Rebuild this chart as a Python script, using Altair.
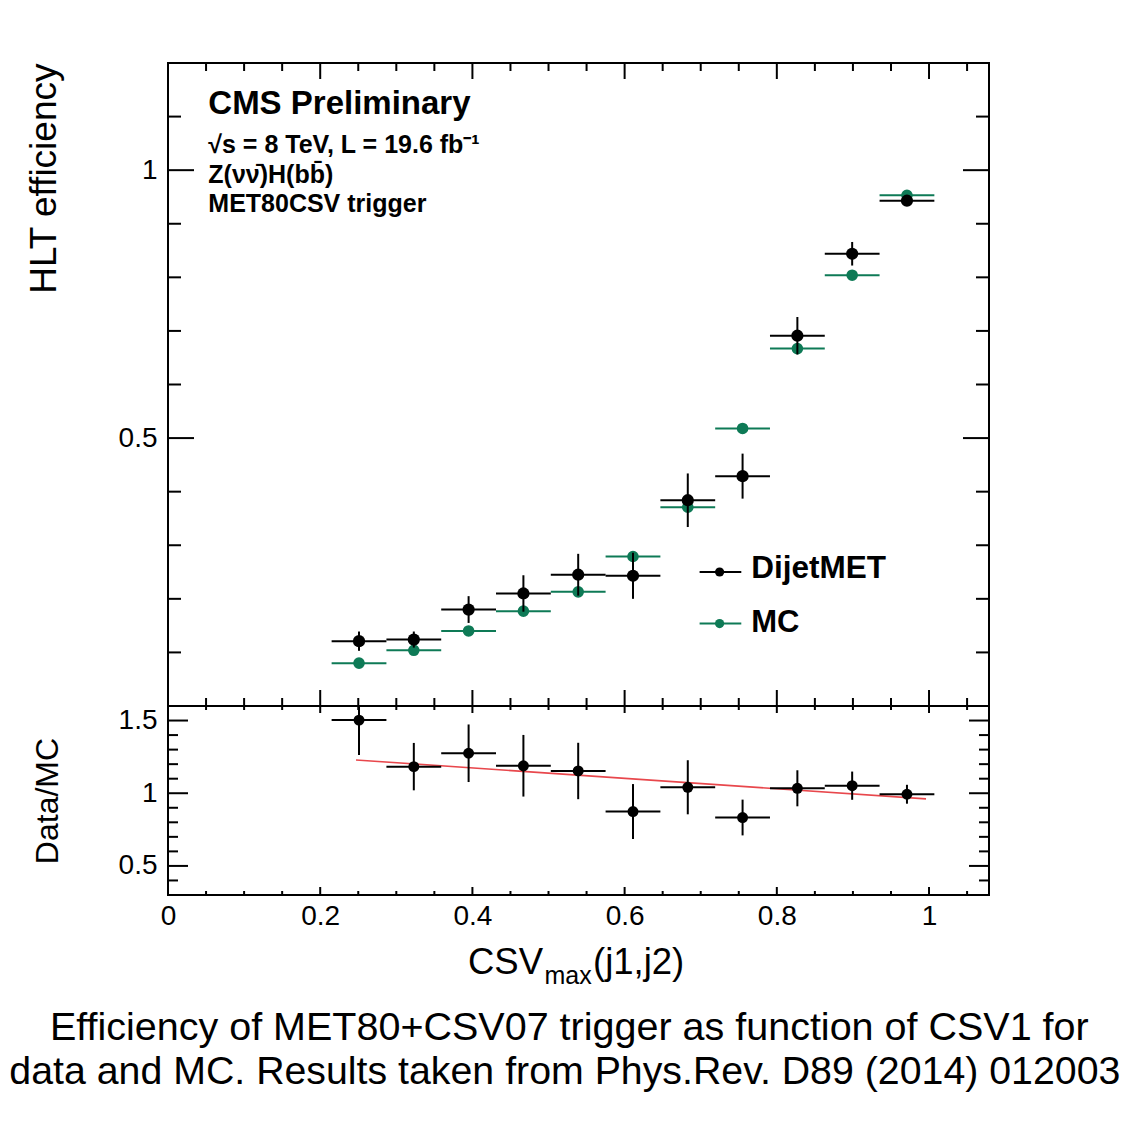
import altair as alt
import pandas as pd

# ---------------- data ----------------
csv_centers = [0.251, 0.323, 0.395, 0.467, 0.539, 0.611, 0.683, 0.755, 0.827, 0.899, 0.971]
bin_halfwidth = 0.036

eff_data = [0.121, 0.124, 0.180, 0.210, 0.245, 0.243, 0.384, 0.429, 0.691, 0.844, 0.943]
eff_data_err = [0.018, 0.015, 0.025, 0.034, 0.039, 0.043, 0.050, 0.042, 0.035, 0.022, 0.008]

eff_mc = [0.080, 0.104, 0.140, 0.177, 0.213, 0.279, 0.371, 0.518, 0.667, 0.804, 0.953]
eff_mc_err = [0.004, 0.004, 0.005, 0.005, 0.006, 0.007, 0.008, 0.008, 0.008, 0.007, 0.004]

ratio = [1.503, 1.183, 1.275, 1.189, 1.153, 0.874, 1.041, 0.833, 1.034, 1.052, 0.993]
ratio_err = [0.240, 0.163, 0.198, 0.212, 0.194, 0.189, 0.186, 0.123, 0.124, 0.097, 0.065]

fit_x = [0.247, 0.996]
fit_y = [1.229, 0.961]

x_major = [0.0, 0.2, 0.4, 0.6, 0.8, 1.0]
x_minor = [0.05, 0.1, 0.15, 0.25, 0.3, 0.35, 0.45, 0.5, 0.55, 0.65, 0.7, 0.75,
           0.85, 0.9, 0.95, 1.05]
x_labels = [0.0, 0.2, 0.4, 0.6, 0.8, 1.0]

top_y_major = [0.5, 1.0]
top_y_minor = [0.1, 0.2, 0.3, 0.4, 0.6, 0.7, 0.8, 0.9, 1.1]
top_y_labels = [0.5, 1.0]

bot_y_major = [0.5, 1.0, 1.5]
bot_y_minor = [0.4, 0.6, 0.7, 0.8, 0.9, 1.1, 1.2, 1.3, 1.4]
bot_y_labels = [0.5, 1.0, 1.5]

legend_labels = ["DijetMET", "MC"]
cms_label = ["CMS Preliminary"]
info_lines = ["\u221as = 8 TeV, L = 19.6 fb\u207b\u00b9", "Z(\u03bd\u03bd\u0304)H(bb\u0304)", "MET80CSV trigger"]
x_title_parts = ["CSV", "max", "(j1,j2)"]
caption_lines = ["Efficiency of MET80+CSV07 trigger as function of CSV1 for",
                 "data and MC. Results taken from Phys.Rev. D89 (2014) 012003"]

# ---------------- style ----------------
INK = "#000000"
GREEN = "#0e7a56"
RED = "#e8474c"
FONT = "Liberation Sans"

W = 821
H_TOP = 643
H_BOT = 189

xs = alt.Scale(domain=[0, 1.0788], nice=False, zero=False)
ys_top = alt.Scale(domain=[0, 1.2], nice=False, zero=False)
ys_bot = alt.Scale(domain=[0.3, 1.6], nice=False, zero=False)

df = pd.DataFrame({
    "x": csv_centers,
    "xlo": [c - bin_halfwidth for c in csv_centers],
    "xhi": [c + bin_halfwidth for c in csv_centers],
    "eff": eff_data,
    "elo": [v - e for v, e in zip(eff_data, eff_data_err)],
    "ehi": [v + e for v, e in zip(eff_data, eff_data_err)],
    "mc": eff_mc,
    "mlo": [v - e for v, e in zip(eff_mc, eff_mc_err)],
    "mhi": [v + e for v, e in zip(eff_mc, eff_mc_err)],
    "r": ratio,
    "rlo": [v - e for v, e in zip(ratio, ratio_err)],
    "rhi": [v + e for v, e in zip(ratio, ratio_err)],
})
fit_df = pd.DataFrame({"x": fit_x, "y": fit_y})

yax_top = alt.Axis(values=top_y_labels, format="~g", ticks=False, domain=False, grid=False,
                   labelFont=FONT, labelFontSize=28, labelColor=INK, labelPadding=11,
                   title="HLT efficiency", titleFont=FONT, titleFontSize=37,
                   titleFontWeight="normal", titleColor=INK, titleAnchor="end",
                   titlePadding=55)
yax_bot = alt.Axis(values=bot_y_labels, format="~g", ticks=False, domain=False, grid=False,
                   labelFont=FONT, labelFontSize=28, labelColor=INK, labelPadding=11,
                   title="Data/MC", titleFont=FONT, titleFontSize=32,
                   titleFontWeight="normal", titleColor=INK, titleAnchor="middle",
                   titlePadding=54)
xax_bot = alt.Axis(values=x_labels, format="~g", ticks=False, domain=False, grid=False,
                   labelFont=FONT, labelFontSize=28, labelColor=INK, labelPadding=7,
                   labelFlush=False, title=None)


def xticks(vals, y0, y1, axis=None):
    return alt.Chart(pd.DataFrame({"v": vals})).mark_rule(color=INK, strokeWidth=2).encode(
        x=alt.X("v:Q", scale=xs, axis=axis), y=alt.value(y0), y2=alt.value(y1))


def yticks(vals, scale, axis, x0, x1):
    return alt.Chart(pd.DataFrame({"v": vals})).mark_rule(color=INK, strokeWidth=2).encode(
        y=alt.Y("v:Q", scale=scale, axis=axis), x=alt.value(x0), x2=alt.value(x1))


def label(texts, x, y, size, weight="normal", align="left", color=INK):
    return alt.Chart(pd.DataFrame({"t": texts})).mark_text(
        align=align, baseline="alphabetic", font=FONT, fontSize=size,
        fontWeight=weight, color=color).encode(
        text="t:N", x=alt.value(x), y=alt.value(y))


# ---------------- top panel ----------------
X_top = lambda f: alt.X(f, scale=xs, axis=None)
Y_top = lambda f: alt.Y(f, scale=ys_top, axis=yax_top)

mc_h = alt.Chart(df).mark_rule(color=GREEN, strokeWidth=2).encode(
    x=X_top("xlo:Q"), x2="xhi:Q", y=Y_top("mc:Q"))
mc_v = alt.Chart(df).mark_rule(color=GREEN, strokeWidth=2).encode(
    x=X_top("x:Q"), y=Y_top("mlo:Q"), y2="mhi:Q")
mc_pt = alt.Chart(df).mark_circle(color=GREEN, size=135, opacity=1).encode(
    x=X_top("x:Q"), y=Y_top("mc:Q"))

d_h = alt.Chart(df).mark_rule(color=INK, strokeWidth=2).encode(
    x=X_top("xlo:Q"), x2="xhi:Q", y=Y_top("eff:Q"))
d_v = alt.Chart(df).mark_rule(color=INK, strokeWidth=2).encode(
    x=X_top("x:Q"), y=Y_top("elo:Q"), y2="ehi:Q")
d_pt = alt.Chart(df).mark_circle(color=INK, size=150, opacity=1).encode(
    x=X_top("x:Q"), y=Y_top("eff:Q"))

leg_df = pd.DataFrame({"t": legend_labels})
leg_line_d = alt.Chart(leg_df.iloc[:1]).mark_rule(color=INK, strokeWidth=2).encode(
    x=alt.value(531.6), x2=alt.value(573.3), y=alt.value(509))
leg_pt_d = alt.Chart(leg_df.iloc[:1]).mark_circle(color=INK, size=85, opacity=1).encode(
    x=alt.value(551.6), y=alt.value(509))
leg_line_m = alt.Chart(leg_df.iloc[1:]).mark_rule(color=GREEN, strokeWidth=2).encode(
    x=alt.value(531.6), x2=alt.value(573.3), y=alt.value(560.6))
leg_pt_m = alt.Chart(leg_df.iloc[1:]).mark_circle(color=GREEN, size=85, opacity=1).encode(
    x=alt.value(551.6), y=alt.value(560.6))
leg_txt_d = label(legend_labels[:1], 583.3, 514.6, 31.5, "bold")
leg_txt_m = label(legend_labels[1:], 583.3, 569, 31, "bold")

cms_txt = label(cms_label, 40.3, 50.6, 33, "bold")
info1 = label(info_lines[:1], 40.3, 90, 25, "bold")
info2 = label(info_lines[1:2], 40.3, 119.5, 25, "bold")
info3 = label(info_lines[2:], 40.3, 149, 25, "bold")

top_layers = [
    xticks(x_major, 0, 16), xticks(x_minor, 0, 8),
    xticks(x_major, H_TOP, H_TOP - 16), xticks(x_minor, H_TOP, H_TOP - 8),
    yticks(top_y_major, ys_top, yax_top, 0, 26), yticks(top_y_minor, ys_top, yax_top, 0, 13),
    yticks(top_y_major, ys_top, yax_top, W, W - 26), yticks(top_y_minor, ys_top, yax_top, W, W - 13),
    mc_h, mc_v, mc_pt, d_h, d_v, d_pt,
    leg_line_d, leg_pt_d, leg_line_m, leg_pt_m, leg_txt_d, leg_txt_m,
    cms_txt, info1, info2, info3,
]
top = alt.layer(*top_layers).properties(width=W, height=H_TOP)

# ---------------- bottom (ratio) panel ----------------
X_bot = lambda f: alt.X(f, scale=xs, axis=xax_bot)
Y_bot = lambda f: alt.Y(f, scale=ys_bot, axis=yax_bot)

r_h = alt.Chart(df).mark_rule(color=INK, strokeWidth=2, clip=True).encode(
    x=X_bot("xlo:Q"), x2="xhi:Q", y=Y_bot("r:Q"))
r_v = alt.Chart(df).mark_rule(color=INK, strokeWidth=2, clip=True).encode(
    x=X_bot("x:Q"), y=Y_bot("rlo:Q"), y2="rhi:Q")
r_pt = alt.Chart(df).mark_circle(color=INK, size=120, opacity=1).encode(
    x=X_bot("x:Q"), y=Y_bot("r:Q"))
fit = alt.Chart(fit_df).mark_line(color=RED, strokeWidth=1.6).encode(
    x=X_bot("x:Q"), y=Y_bot("y:Q"))

xt1 = label(x_title_parts[:1], 375, 267.6, 36.5, align="right")
xt2 = label(x_title_parts[1:2], 376.5, 278, 25)
xt3 = label(x_title_parts[2:], 425, 267.6, 36.5)

cap1 = label(caption_lines[:1], 401.3, 333.5, 39.5, align="center")
cap2 = label(caption_lines[1:], -158.7, 377.5, 39.3, align="left")

bot_layers = [
    xticks(x_major, H_BOT, H_BOT - 8, xax_bot), xticks(x_minor, H_BOT, H_BOT - 4, xax_bot),
    xticks(x_major, 0, 7, xax_bot), xticks(x_minor, 0, 4, xax_bot),
    yticks(bot_y_major, ys_bot, yax_bot, 0, 20), yticks(bot_y_minor, ys_bot, yax_bot, 0, 10),
    yticks(bot_y_major, ys_bot, yax_bot, W, W - 20), yticks(bot_y_minor, ys_bot, yax_bot, W, W - 10),
    fit, r_h, r_v, r_pt,
    xt1, xt2, xt3, cap1, cap2,
]
bottom = alt.layer(*bot_layers).properties(width=W, height=H_BOT)

chart = alt.vconcat(top, bottom, spacing=0, bounds="flush").properties(
    padding={"left": 0, "top": 53, "right": 5, "bottom": 5},
    background="white",
).configure_view(stroke=INK, strokeWidth=2)

chart.save("out.html", embed_options={"renderer": "svg", "actions": False})
